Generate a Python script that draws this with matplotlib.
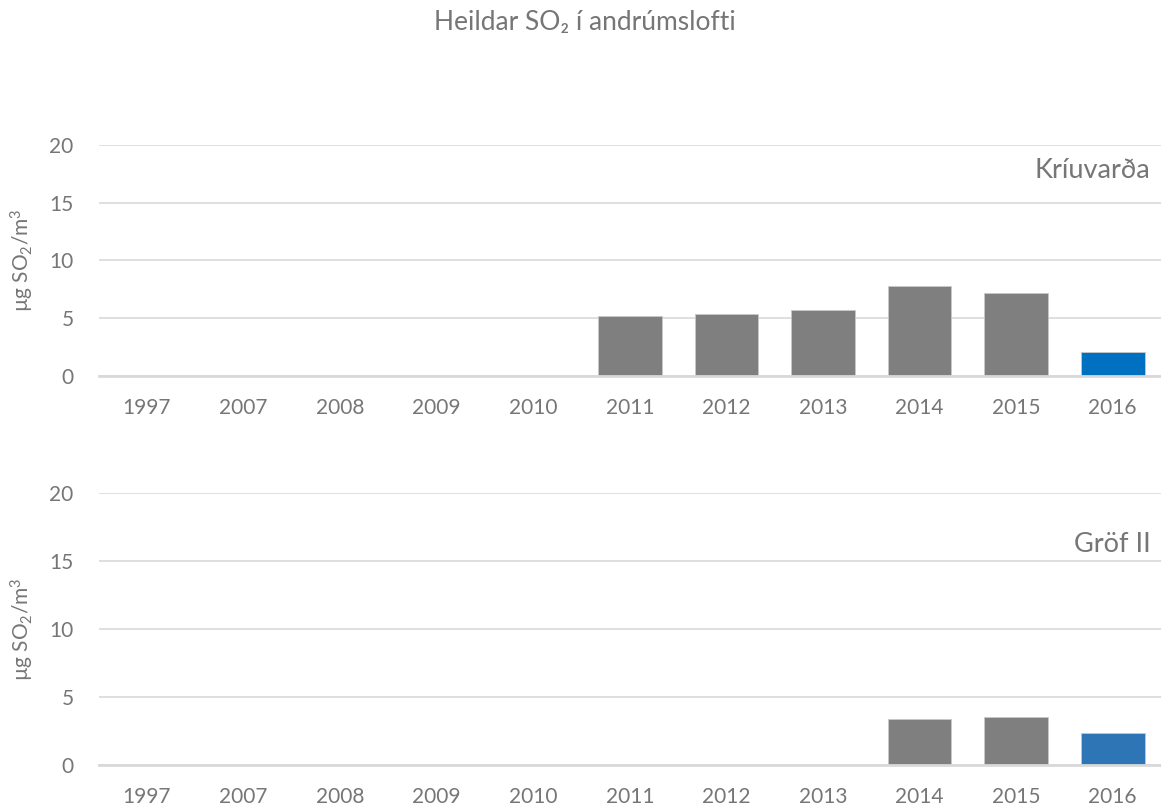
import matplotlib

matplotlib.use("Agg")
import matplotlib.pyplot as plt
import numpy as np

years = ["1997", "2007", "2008", "2009", "2010", "2011", "2012", "2013", "2014", "2015", "2016"]
kriuvarda = [np.nan, np.nan, np.nan, np.nan, np.nan, 5.2, 5.35, 5.7, 7.8, 7.2, 2.1]
grof = [np.nan, np.nan, np.nan, np.nan, np.nan, np.nan, np.nan, np.nan, 3.4, 3.55, 2.35]
yticks = [0, 5, 10, 15, 20]

TEXT = "#767676"
GRID = "#d9d9d9"
GRAY = "#7f7f7f"

plt.rcParams["font.family"] = ["Lato", "DejaVu Sans"]
plt.rcParams["mathtext.default"] = "regular"

fig = plt.figure(figsize=(11.61, 8.09), dpi=100, facecolor="white")
fig.text(0.504, 0.972, "Heildar SO₂ í andrúmslofti", ha="center", va="center",
         fontsize=19, color=TEXT)


def panel(rect, values, label, label_y, blue):
    ax = fig.add_axes(rect)
    x = np.arange(len(years))
    colors = [GRAY] * (len(years) - 1) + [blue]
    ax.bar(x, values, width=0.66, color=colors, edgecolor="#c8c8c8", linewidth=0.6, zorder=3)
    ax.set_xlim(-0.5, len(years) - 0.5)
    ax.set_ylim(0, 20)
    ax.set_yticks(yticks)
    ax.set_xticks(x)
    ax.set_xticklabels(years)
    ax.yaxis.grid(True, color=GRID, linewidth=1.2, zorder=0)
    for side in ("top", "right", "left"):
        ax.spines[side].set_visible(False)
    ax.spines["bottom"].set_color(GRID)
    ax.spines["bottom"].set_linewidth(2)
    ax.spines["bottom"].set_zorder(4)
    ax.tick_params(axis="both", length=0, labelsize=15, colors=TEXT)
    ax.tick_params(axis="y", pad=18)
    ax.tick_params(axis="x", pad=16)
    ax.set_ylabel("µg SO$_2$/m$^3$", fontsize=15, color=TEXT, labelpad=10)
    ax.text(0.99, label_y, label, transform=ax.transAxes, ha="right", va="center",
            fontsize=19.5, color=TEXT)
    return ax


panel([0.085, 0.5352, 0.915, 0.2856], kriuvarda, "Kríuvarða", 0.89, "#0070c0")
panel([0.085, 0.0544, 0.915, 0.3362], grof, "Gröf II", 0.81, "#2e75b6")

fig.savefig("out.png", dpi=100, facecolor=fig.get_facecolor())
